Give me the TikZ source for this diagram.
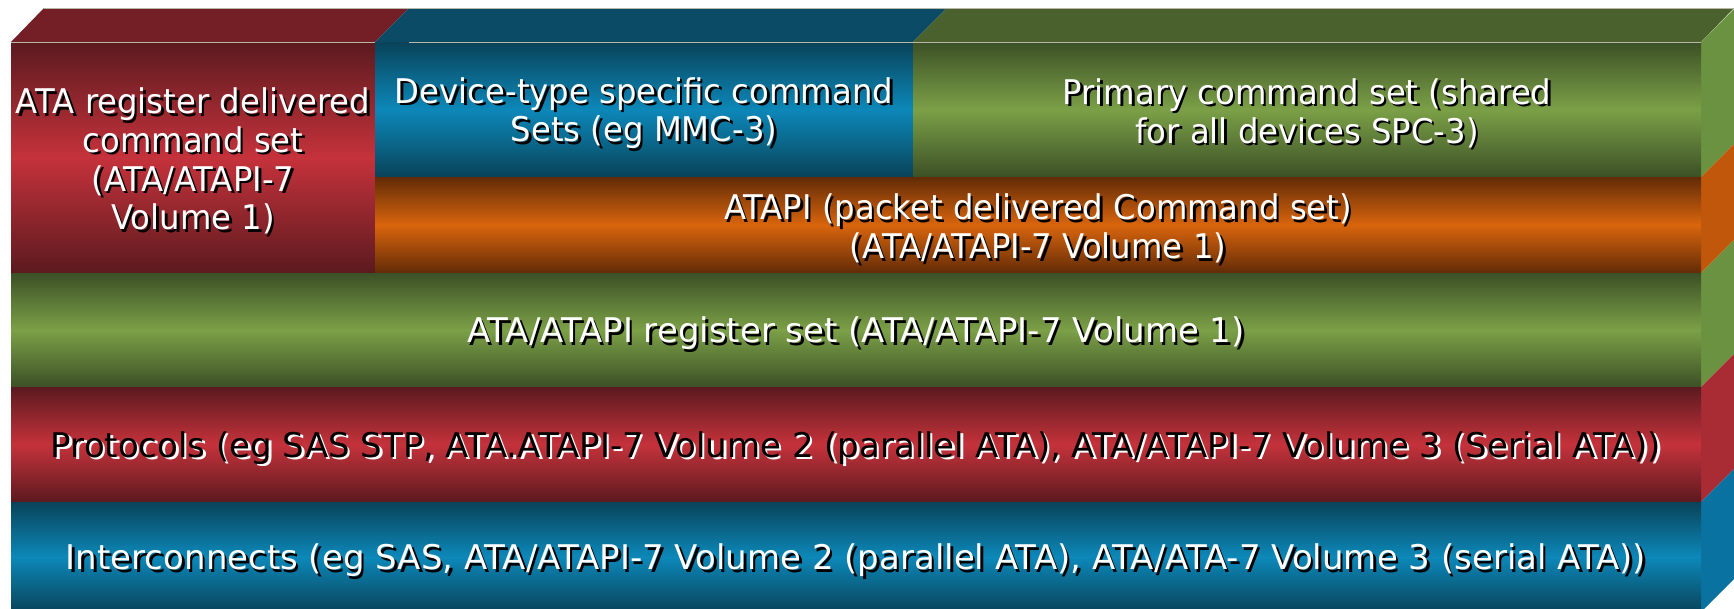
\documentclass[tikz,border=0pt]{standalone}
\usepackage{fontspec}
\setmainfont{DejaVu Sans}
\newfontfamily\narrowfont{DejaVu Sans}[FakeStretch=0.95]
\usetikzlibrary{calc}

% palette: dark edge, bright middle, top face, side face
\definecolor{redD}{HTML}{5B1A1F}\definecolor{redM}{HTML}{C5323B}
\definecolor{redT}{HTML}{731F25}\definecolor{redS}{HTML}{A92B33}
\definecolor{bluD}{HTML}{094359}\definecolor{bluM}{HTML}{0C88B9}
\definecolor{bluT}{HTML}{0B4B66}\definecolor{bluS}{HTML}{0A72A1}
\definecolor{grnD}{HTML}{3C5026}\definecolor{grnM}{HTML}{7BA047}
\definecolor{grnT}{HTML}{4A612D}\definecolor{grnS}{HTML}{6A9240}
\definecolor{orgD}{HTML}{622B07}\definecolor{orgM}{HTML}{D9650D}
\definecolor{orgS}{HTML}{C0570A}
\definecolor{edgeline}{HTML}{B8B8A8}

\tikzset{
  face/.style args={#1}{top color=#1D, bottom color=#1D, middle color=#1M},
  lbl/.style={align=center, text=white, font=\fontsize{34}{38.7}\selectfont,
              inner sep=0pt, yshift=-3.5pt},
  lbldark/.style={lbl, text=black},
  shadowW/.style={lbl, text=black},
  shadowK/.style={lbl, text=white},
}

% front slab: name, x1, y1, x2, y2, palette
\newcommand\slab[6]{%
  \path[face=#6] (#2,#3) rectangle (#4,#5);
  \coordinate (#1) at ($(#2,#3)!0.5!(#4,#5)$);
}
% right-hand side face: palette, front top y, front bottom y
\newcommand\sideface[3]{%
  \fill[#1S] (1701,#2) -- (1734,#2-33) -- (1734,#3-33) -- (1701,#3) -- cycle;
}
% light text with dark drop shadow
\newcommand\lighttext[3]{%
  \node[shadowW] at ([shift={(2.5,2.5)}]#1) {#3};
  \node[lbl] (#2) at (#1) {#3};
}
% dark text with light drop shadow
\newcommand\darktext[3]{%
  \node[shadowK] at ([shift={(2.5,2.5)}]#1) {#3};
  \node[lbldark] (#2) at (#1) {#3};
}

\begin{document}
\begin{tikzpicture}[x=1pt,y=-1pt]
\useasboundingbox (0,0) rectangle (1734,608);

% top faces
\fill[redT] (11,42) -- (375,42) -- (409,8) -- (44,8) -- cycle;
\fill[bluT] (375,42) -- (913,42) -- (947,8) -- (409,8) -- cycle;
\fill[grnT] (913,42) -- (1701,42) -- (1734,8) -- (947,8) -- cycle;

% right side faces
\sideface{grn}{42}{177}
\sideface{org}{177}{273}
\sideface{grn}{273}{387}
\sideface{red}{387}{502}
\sideface{blu}{502}{612}

% front faces
\slab{cAta}{11}{42}{375}{273}{red}
\slab{cDev}{375}{42}{913}{177}{blu}
\slab{cPri}{913}{42}{1701}{177}{grn}
\slab{cPkt}{375}{177}{1701}{273}{org}
\slab{cReg}{11}{273}{1701}{387}{grn}
\slab{cPro}{11}{387}{1701}{502}{red}
\slab{cInt}{11}{502}{1701}{612}{blu}

% highlight edges
\draw[edgeline, line width=0.8pt] (44,8) -- (1734,8);
\draw[edgeline, line width=0.8pt] (11,42) -- (375,42);
\draw[edgeline, line width=0.8pt] (409,42) -- (1701,42);

% labels
\lighttext{cAta}{tAta}{\narrowfont ATA register delivered\\\narrowfont command set\\\narrowfont (ATA/ATAPI-7\\\narrowfont Volume 1)}
\lighttext{cDev}{tDev}{\narrowfont Device-type specific command\\\narrowfont Sets (eg MMC-3)}
\lighttext{cPri}{tPri}{\narrowfont Primary command set (shared\\\narrowfont for all devices SPC-3)}
\lighttext{cPkt}{tPkt}{\narrowfont ATAPI (packet delivered Command set)\\\narrowfont (ATA/ATAPI-7 Volume 1)}
\lighttext{cReg}{tReg}{ATA/ATAPI register set (ATA/ATAPI-7 Volume 1)}
\darktext{cPro}{tPro}{Protocols (eg SAS STP, ATA.ATAPI-7 Volume 2 (parallel ATA), ATA/ATAPI-7 Volume 3 (Serial ATA))}
\lighttext{cInt}{tInt}{Interconnects (eg SAS, ATA/ATAPI-7 Volume 2 (parallel ATA), ATA/ATA-7 Volume 3 (serial ATA))}
\end{tikzpicture}
\end{document}
